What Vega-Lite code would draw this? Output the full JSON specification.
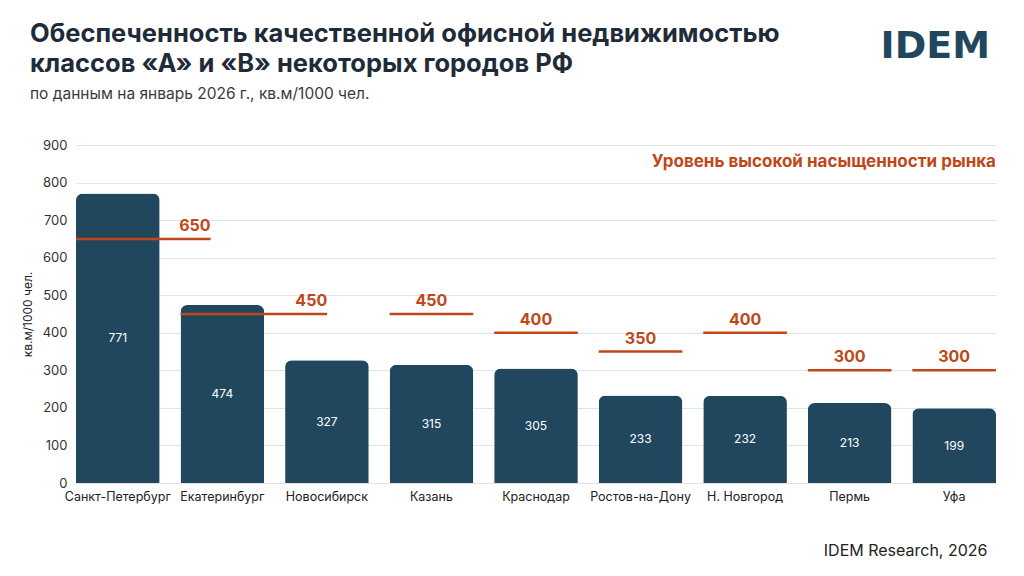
{
  "$schema": "https://vega.github.io/schema/vega-lite/v6.json",
  "width": 920,
  "height": 338,
  "autosize": {"type": "none"},
  "padding": {"left": 76, "top": 145, "right": 28, "bottom": 93},
  "background": "#ffffff",
  "config": {
    "font": "Inter",
    "view": {"stroke": null},
    "axisY": {
      "tickCount": 10,
      "labelFontSize": 13,
      "labelColor": "#333333",
      "labelPadding": 9,
      "ticks": false,
      "domain": false,
      "gridColor": "#e3e3e3",
      "gridWidth": 1,
      "titleFontSize": 12,
      "titleFontWeight": "normal",
      "titleColor": "#222222",
      "titlePadding": 8
    }
  },
  "title": {
    "text": ["Обеспеченность качественной офисной недвижимостью", "классов «А» и «В» некоторых городов РФ"],
    "subtitle": "по данным на январь 2026 г., кв.м/1000 чел.",
    "anchor": "start",
    "frame": "group",
    "dx": -46,
    "dy": 114,
    "offset": 40,
    "fontSize": 25.5,
    "fontWeight": "bold",
    "color": "#1f2b38",
    "lineHeight": 30,
    "subtitleFontSize": 15.5,
    "subtitleColor": "#3a3a3a",
    "subtitlePadding": 9
  },
  "data": {
    "values": [
      {"city": "Санкт-Петербург", "value": 771, "threshold": 650, "place": "outside"},
      {"city": "Екатеринбург", "value": 474, "threshold": 450, "place": "outside"},
      {"city": "Новосибирск", "value": 327, "threshold": null, "place": null},
      {"city": "Казань", "value": 315, "threshold": 450, "place": "above"},
      {"city": "Краснодар", "value": 305, "threshold": 400, "place": "above"},
      {"city": "Ростов-на-Дону", "value": 233, "threshold": 350, "place": "above"},
      {"city": "Н. Новгород", "value": 232, "threshold": 400, "place": "above"},
      {"city": "Пермь", "value": 213, "threshold": 300, "place": "above"},
      {"city": "Уфа", "value": 199, "threshold": 300, "place": "above"}
    ]
  },
  "encoding": {
    "x": {
      "field": "city",
      "type": "nominal",
      "sort": null,
      "scale": {"paddingInner": 0.2, "paddingOuter": 0},
      "axis": {
        "title": "IDEM Research, 2026",
        "titleAnchor": "end",
        "titleAlign": "right",
        "titleX": 911,
        "titlePadding": 40,
        "titleFontSize": 16,
        "titleFontWeight": "normal",
        "titleColor": "#222222",
        "labelAngle": 0,
        "labelFontSize": 12.5,
        "labelColor": "#222222",
        "labelPadding": 7,
        "ticks": false,
        "domain": false
      }
    }
  },
  "layer": [
    {
      "mark": {"type": "bar", "color": "#21475f", "cornerRadiusTopLeft": 7, "cornerRadiusTopRight": 7},
      "encoding": {
        "y": {
          "field": "value",
          "type": "quantitative",
          "title": "кв.м/1000 чел.",
          "scale": {"domain": [0, 900], "nice": false}
        }
      }
    },
    {
      "transform": [{"calculate": "datum.value / 2", "as": "mid"}],
      "mark": {"type": "text", "color": "#ffffff", "fontSize": 12, "baseline": "middle"},
      "encoding": {
        "y": {"field": "mid", "type": "quantitative", "title": "кв.м/1000 чел."},
        "text": {"field": "value", "type": "quantitative"}
      }
    },
    {
      "transform": [{"filter": "datum.place === 'above'"}],
      "mark": {"type": "rule", "color": "#bf4719", "strokeWidth": 2.5},
      "encoding": {
        "x": {"field": "city", "type": "nominal", "sort": null, "bandPosition": 0},
        "x2": {"field": "city", "bandPosition": 1},
        "y": {"field": "threshold", "type": "quantitative", "title": "кв.м/1000 чел."}
      }
    },
    {
      "transform": [{"filter": "datum.place === 'above'"}],
      "mark": {"type": "text", "color": "#bf4719", "fontSize": 16, "fontWeight": "bold", "baseline": "bottom", "dy": -5},
      "encoding": {
        "y": {"field": "threshold", "type": "quantitative", "title": "кв.м/1000 чел."},
        "text": {"field": "threshold", "type": "quantitative"}
      }
    },
    {
      "transform": [{"filter": "datum.city === 'Санкт-Петербург'"}],
      "mark": {"type": "rule", "color": "#bf4719", "strokeWidth": 2.5, "x2Offset": 51},
      "encoding": {
        "x": {"field": "city", "type": "nominal", "sort": null, "bandPosition": 0},
        "x2": {"field": "city", "bandPosition": 1},
        "y": {"field": "threshold", "type": "quantitative", "title": "кв.м/1000 чел."}
      }
    },
    {
      "transform": [{"filter": "datum.city === 'Санкт-Петербург'"}],
      "mark": {"type": "text", "color": "#bf4719", "fontSize": 16, "fontWeight": "bold", "baseline": "bottom", "align": "right", "dy": -5, "dx": 51},
      "encoding": {
        "x": {"field": "city", "type": "nominal", "sort": null, "bandPosition": 1},
        "y": {"field": "threshold", "type": "quantitative", "title": "кв.м/1000 чел."},
        "text": {"field": "threshold", "type": "quantitative"}
      }
    },
    {
      "transform": [{"filter": "datum.city === 'Екатеринбург'"}],
      "mark": {"type": "rule", "color": "#bf4719", "strokeWidth": 2.5, "x2Offset": 63},
      "encoding": {
        "x": {"field": "city", "type": "nominal", "sort": null, "bandPosition": 0},
        "x2": {"field": "city", "bandPosition": 1},
        "y": {"field": "threshold", "type": "quantitative", "title": "кв.м/1000 чел."}
      }
    },
    {
      "transform": [{"filter": "datum.city === 'Екатеринбург'"}],
      "mark": {"type": "text", "color": "#bf4719", "fontSize": 16, "fontWeight": "bold", "baseline": "bottom", "align": "right", "dy": -5, "dx": 63},
      "encoding": {
        "x": {"field": "city", "type": "nominal", "sort": null, "bandPosition": 1},
        "y": {"field": "threshold", "type": "quantitative", "title": "кв.м/1000 чел."},
        "text": {"field": "threshold", "type": "quantitative"}
      }
    },
    {
      "data": {"values": [{"city": "Уфа", "level": 855, "note": "Уровень высокой насыщенности рынка"}]},
      "mark": {"type": "text", "color": "#bf4719", "fontSize": 17, "fontWeight": "bold", "align": "right", "baseline": "middle"},
      "encoding": {
        "x": {"field": "city", "type": "nominal", "sort": null, "bandPosition": 1},
        "y": {"field": "level", "type": "quantitative", "title": "кв.м/1000 чел."},
        "text": {"field": "note"}
      }
    },
    {
      "data": {"values": [{"logo": "IDEM"}]},
      "mark": {"type": "text", "font": "DejaVu Sans", "color": "#21475f", "fontSize": 38, "fontWeight": "bold", "align": "right", "baseline": "alphabetic"},
      "encoding": {
        "x": {"value": 914},
        "y": {"value": -87},
        "text": {"field": "logo"}
      }
    }
  ]
}
